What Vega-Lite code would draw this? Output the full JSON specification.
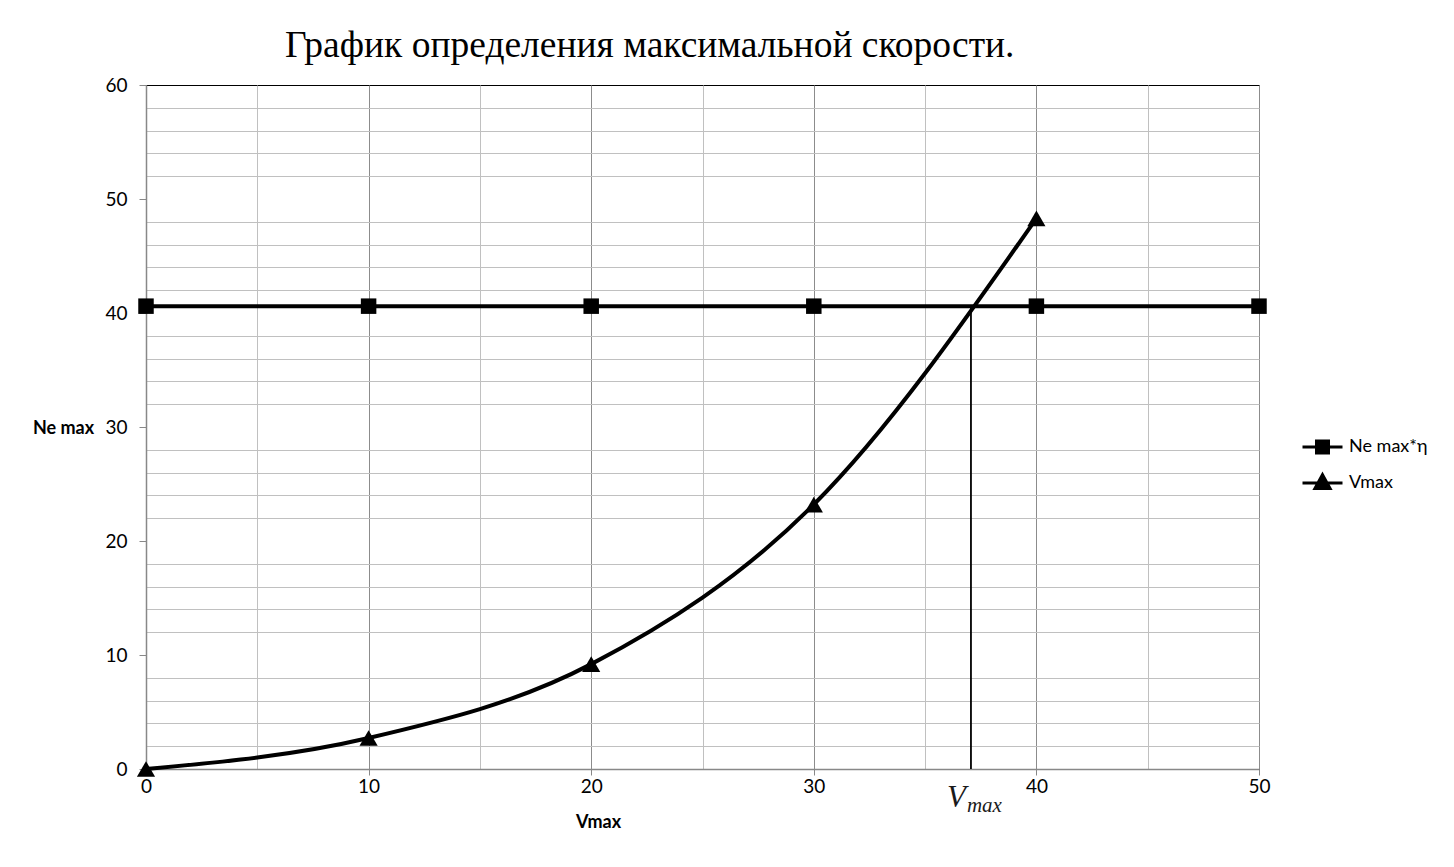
{
  "$schema": "https://vega.github.io/schema/vega-lite/v6.json",
  "autosize": "none",
  "width": 1113,
  "height": 684,
  "padding": {"left": 146, "top": 85, "right": 195, "bottom": 98},
  "background": "white",
  "title": {
    "text": "График определения максимальной скорости.",
    "font": "Liberation Serif",
    "fontSize": 37.5,
    "fontWeight": "normal",
    "color": "black",
    "anchor": "start",
    "frame": "group",
    "dx": 139,
    "offset": 12
  },
  "config": {
    "view": {"stroke": "black", "strokeWidth": 1},
    "axis": {
      "labelFont": "Lato",
      "labelFontSize": 19,
      "labelColor": "black",
      "labelFlush": false,
      "titleFont": "Lato",
      "titleFontSize": 18,
      "titleFontWeight": "bold",
      "titleColor": "black",
      "domainColor": "#888",
      "domainWidth": 1.5,
      "gridWidth": 1,
      "tickColor": "#888",
      "tickSize": 7
    }
  },
  "resolve": {"axis": {"y": "independent"}},
  "datasets": {
    "series": [
      {"V": 0, "N": 40.6, "series": "Ne max*η"},
      {"V": 10, "N": 40.6, "series": "Ne max*η"},
      {"V": 20, "N": 40.6, "series": "Ne max*η"},
      {"V": 30, "N": 40.6, "series": "Ne max*η"},
      {"V": 40, "N": 40.6, "series": "Ne max*η"},
      {"V": 50, "N": 40.6, "series": "Ne max*η"},
      {"V": 0, "N": 0, "series": "Vmax"},
      {"V": 10, "N": 2.72, "series": "Vmax"},
      {"V": 20, "N": 9.2, "series": "Vmax"},
      {"V": 30, "N": 23.2, "series": "Vmax"},
      {"V": 40, "N": 48.3, "series": "Vmax"}
    ],
    "vline": [{"V": 37.06, "N0": 0, "N1": 40.6}]
  },
  "layer": [
    {
      "data": {"name": "series"},
      "transform": [{"filter": "datum.series === 'Ne max*η'"}],
      "mark": {"type": "point", "opacity": 0},
      "encoding": {
        "x": {"field": "V", "type": "quantitative", "scale": {"domain": [0, 50], "nice": false}},
        "y": {
          "field": "N", "type": "quantitative",
          "scale": {"domain": [0, 60], "nice": false},
          "axis": {
            "orient": "left",
            "values": [2, 4, 6, 8, 12, 14, 16, 18, 22, 24, 26, 28, 32, 34, 36, 38, 42, 44, 46, 48, 52, 54, 56, 58],
            "labels": false,
            "ticks": false,
            "domain": false,
            "title": null,
            "grid": true,
            "gridColor": "#c0c0c0"
          }
        }
      }
    },
    {
      "data": {"name": "series"},
      "mark": {"type": "line", "strokeWidth": 4, "interpolate": "monotone"},
      "encoding": {
        "x": {
          "field": "V", "type": "quantitative",
          "scale": {"domain": [0, 50], "nice": false},
          "axis": {
            "values": [0, 5, 10, 15, 20, 25, 30, 35, 40, 45, 50],
            "labelExpr": "datum.value % 10 === 0 ? datum.label : ''",
            "labelOverlap": false,
            "tickOpacity": {"condition": {"test": "datum.value % 10 === 0", "value": 1}, "value": 0},
            "gridColor": {"condition": {"test": "datum.value % 10 === 0", "value": "#8c8c8c"}, "value": "#c0c0c0"},
            "labelPadding": 2,
            "tickSize": 6,
            "title": "Vmax",
            "titleX": 452,
            "titleY": 53,
            "titleAlign": "center",
            "titleBaseline": "middle"
          }
        },
        "y": {
          "field": "N", "type": "quantitative",
          "scale": {"domain": [0, 60], "nice": false},
          "axis": {
            "orient": "left",
            "values": [0, 10, 20, 30, 40, 50, 60],
            "labelOverlap": false,
            "gridColor": "#8c8c8c",
            "labelPadding": 12,
            "title": "Ne max",
            "titleAngle": 0,
            "titleX": -83,
            "titleY": 343,
            "titleAlign": "center",
            "titleBaseline": "middle"
          }
        },
        "color": {
          "field": "series", "type": "nominal",
          "scale": {"domain": ["Ne max*η", "Vmax"], "range": ["black", "black"]},
          "legend": {
            "title": null,
            "orient": "none",
            "legendX": 1155,
            "legendY": 349,
            "padding": 0,
            "labelFont": "Lato",
            "labelFontSize": 18,
            "labelColor": "black",
            "labelOffset": 5,
            "rowPadding": 10,
            "symbolSize": 1600,
            "symbolStrokeWidth": 3,
            "clipHeight": 26,
            "encode": {
              "symbols": {
                "update": {
                  "shape": {"signal": "datum.value === 'Vmax' ? 'M-1,0H1M0,-0.42L0.38,0.28H-0.38Z' : 'M-1,0H1M-0.3,-0.3H0.3V0.3H-0.3Z'"},
                  "fill": {"value": "black"},
                  "stroke": {"value": "black"},
                  "strokeWidth": {"value": 3},
                  "opacity": {"value": 1}
                }
              }
            }
          }
        }
      }
    },
    {
      "data": {"name": "vline"},
      "mark": {"type": "rule", "color": "black", "strokeWidth": 1.8},
      "encoding": {
        "x": {"field": "V", "type": "quantitative"},
        "y": {"field": "N0", "type": "quantitative", "axis": null},
        "y2": {"field": "N1"}
      }
    },
    {
      "data": {"name": "series"},
      "transform": [{"filter": "datum.series === 'Ne max*η'"}],
      "mark": {"type": "point", "shape": "square", "filled": true, "color": "black", "opacity": 1, "size": 240},
      "encoding": {
        "x": {"field": "V", "type": "quantitative"},
        "y": {"field": "N", "type": "quantitative", "axis": null}
      }
    },
    {
      "data": {"name": "series"},
      "transform": [{"filter": "datum.series === 'Vmax'"}],
      "mark": {"type": "point", "shape": "triangle-up", "filled": true, "color": "black", "opacity": 1, "size": 330},
      "encoding": {
        "x": {"field": "V", "type": "quantitative"},
        "y": {"field": "N", "type": "quantitative", "axis": null}
      }
    },
    {
      "data": {"name": "vline"},
      "mark": {"type": "text", "text": "V", "font": "Liberation Serif", "fontStyle": "italic", "fontSize": 31, "align": "left", "baseline": "alphabetic", "dx": -24, "dy": 38, "color": "#1a1a1a"},
      "encoding": {
        "x": {"field": "V", "type": "quantitative"},
        "y": {"field": "N0", "type": "quantitative", "axis": null}
      }
    },
    {
      "data": {"name": "vline"},
      "mark": {"type": "text", "text": "max", "font": "Liberation Serif", "fontStyle": "italic", "fontSize": 21, "align": "left", "baseline": "alphabetic", "dx": -4, "dy": 43, "color": "#1a1a1a"},
      "encoding": {
        "x": {"field": "V", "type": "quantitative"},
        "y": {"field": "N0", "type": "quantitative", "axis": null}
      }
    }
  ]
}
